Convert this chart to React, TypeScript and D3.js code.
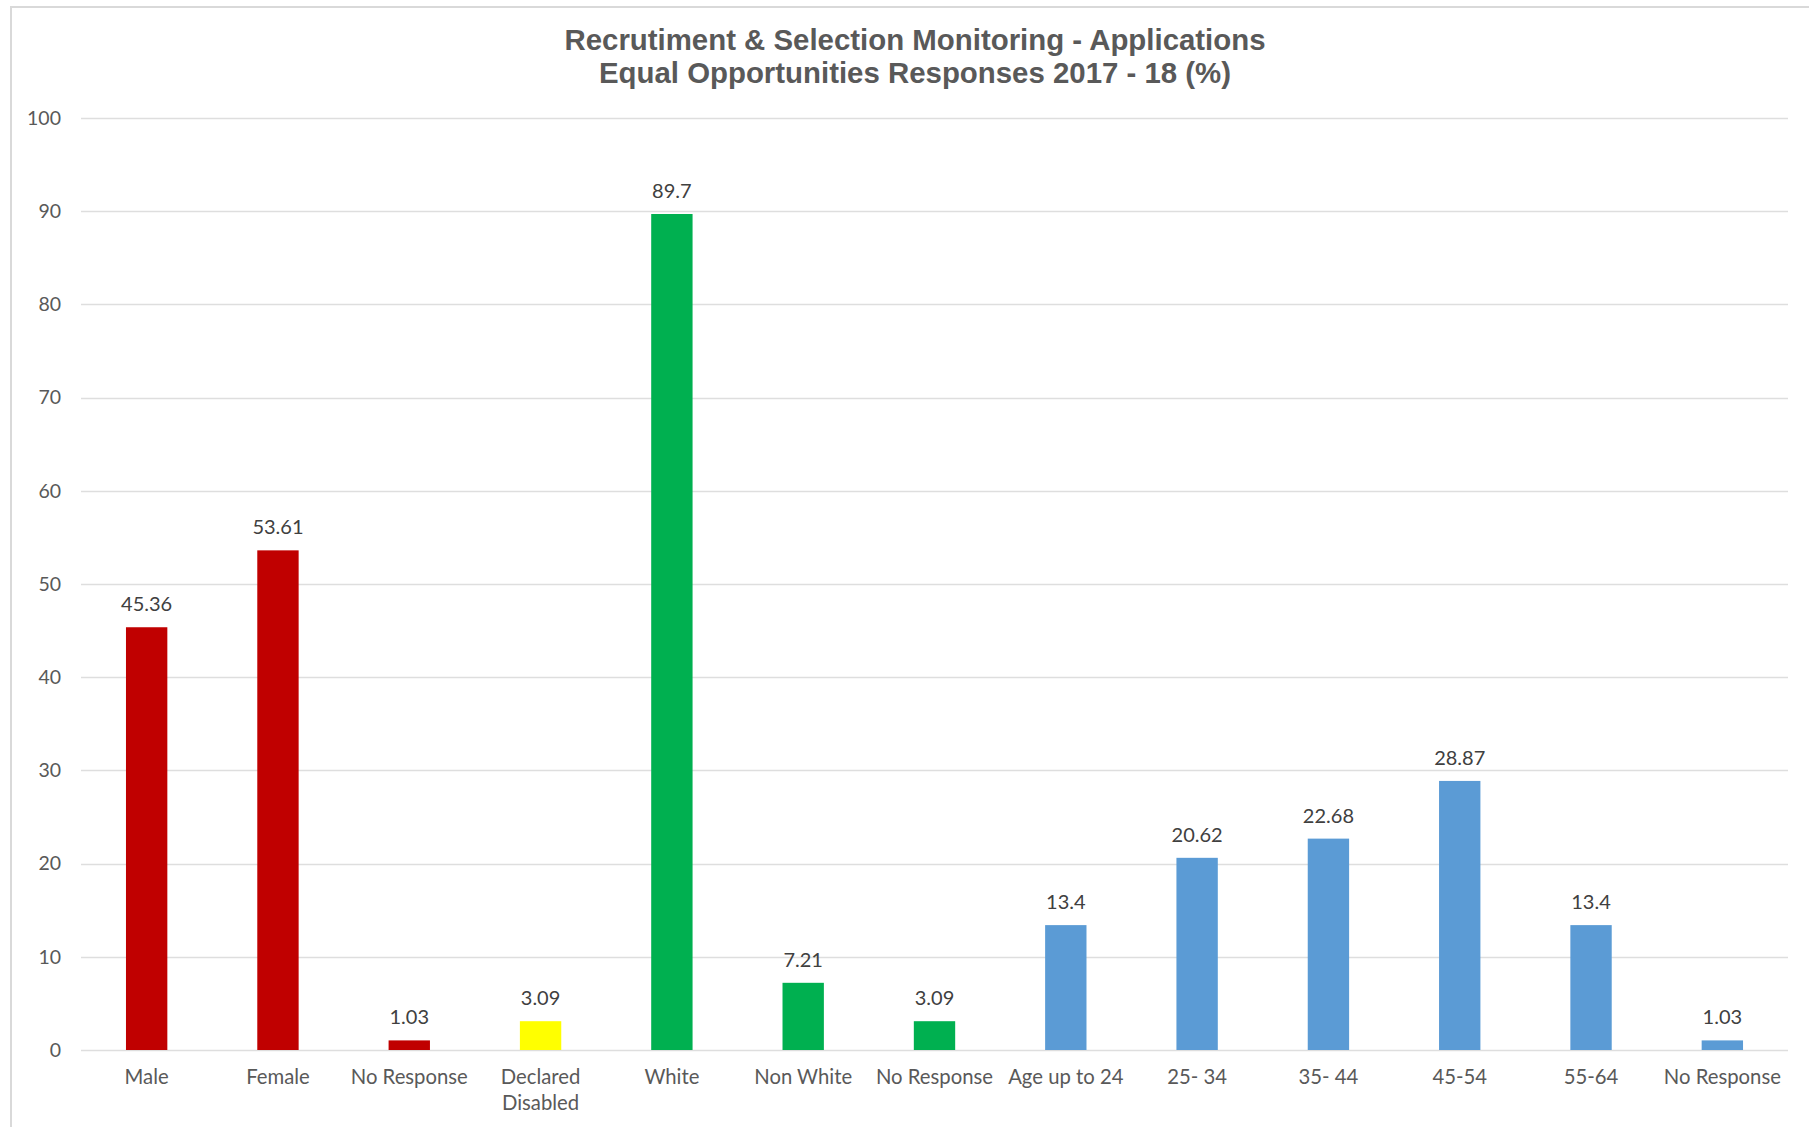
import React, { useEffect, useRef } from "react";
import * as d3 from "d3";

// Category labels along the x axis (multi-line labels split with "\n")
const categories = [
  "Male",
  "Female",
  "No Response",
  "Declared\nDisabled",
  "White",
  "Non White",
  "No Response",
  "Age up to 24",
  "25- 34",
  "35- 44",
  "45-54",
  "55-64",
  "No Response",
];

// Percentage of responses for each category
const values = [45.36, 53.61, 1.03, 3.09, 89.7, 7.21, 3.09, 13.4, 20.62, 22.68, 28.87, 13.4, 1.03];

// Group each bar belongs to (drives its colour)
const groups = ["gender", "gender", "gender", "disability", "ethnicity", "ethnicity", "ethnicity", "age", "age", "age", "age", "age", "age"];

const yTicks = [0, 10, 20, 30, 40, 50, 60, 70, 80, 90, 100];

const titleLines = [
  "Recrutiment & Selection Monitoring - Applications",
  "Equal Opportunities Responses 2017 - 18 (%)",
];

const groupColors: Record<string, string> = {
  gender: "#C00000",
  disability: "#FFFF00",
  ethnicity: "#00B050",
  age: "#5B9BD5",
};

const W = 1809;
const H = 1127;
const plot = { left: 81, right: 1788, top: 118, bottom: 1050 };

export default function App() {
  const ref = useRef<SVGSVGElement | null>(null);

  useEffect(() => {
    const svg = d3.select(ref.current);
    svg.selectAll("*").remove();

    // Chart frame
    svg
      .append("rect")
      .attr("x", 11)
      .attr("y", 7)
      .attr("width", W)
      .attr("height", H)
      .attr("fill", "#ffffff")
      .attr("stroke", "#d9d9d9")
      .attr("stroke-width", 2);

    const x = d3
      .scaleBand<number>()
      .domain(categories.map((_, i) => i))
      .range([plot.left, plot.right])
      .paddingInner(0.685)
      .paddingOuter(0.3425);

    const y = d3.scaleLinear().domain([0, 100]).range([plot.bottom, plot.top]);

    // Horizontal gridlines
    svg
      .append("g")
      .selectAll("line")
      .data(yTicks)
      .join("line")
      .attr("x1", plot.left)
      .attr("x2", plot.right)
      .attr("y1", (d) => Math.round(y(d)) + 0.5)
      .attr("y2", (d) => Math.round(y(d)) + 0.5)
      .attr("stroke", "#dedede")
      .attr("stroke-width", 1.5);

    // Y tick labels
    svg
      .append("g")
      .selectAll("text")
      .data(yTicks)
      .join("text")
      .attr("x", 61)
      .attr("y", (d) => y(d))
      .attr("dy", "0.35em")
      .attr("text-anchor", "end")
      .attr("font-family", "Lato, 'Open Sans', sans-serif")
      .attr("font-size", 19.5)
      .attr("fill", "#595959")
      .text((d) => String(d));

    // Bars
    svg
      .append("g")
      .selectAll("rect")
      .data(values)
      .join("rect")
      .attr("x", (_, i) => x(i)!)
      .attr("width", x.bandwidth())
      .attr("y", (d) => y(d))
      .attr("height", (d) => plot.bottom - y(d))
      .attr("fill", (_, i) => groupColors[groups[i]]);

    // Value labels above bars
    svg
      .append("g")
      .selectAll("text")
      .data(values)
      .join("text")
      .attr("x", (_, i) => x(i)! + x.bandwidth() / 2)
      .attr("y", (d) => y(d) - 16)
      .attr("text-anchor", "middle")
      .attr("font-family", "Lato, 'Open Sans', sans-serif")
      .attr("font-size", 20)
      .attr("fill", "#404040")
      .text((d) => String(d));

    // Category labels
    const cat = svg
      .append("g")
      .selectAll("text")
      .data(categories)
      .join("text")
      .attr("x", (_, i) => x(i)! + x.bandwidth() / 2)
      .attr("y", 1084)
      .attr("text-anchor", "middle")
      .attr("font-family", "Lato, 'Open Sans', sans-serif")
      .attr("font-size", 20.3)
      .attr("fill", "#595959");
    cat.each(function (d, i) {
      const t = d3.select(this);
      const cx = x(i)! + x.bandwidth() / 2;
      d.split("\n").forEach((line, k) => {
        t.append("tspan").attr("x", cx).attr("dy", k === 0 ? 0 : 26).text(line);
      });
    });

    // Title
    svg
      .append("g")
      .selectAll("text")
      .data(titleLines)
      .join("text")
      .attr("x", 915)
      .attr("y", (_, i) => 50 + i * 33)
      .attr("text-anchor", "middle")
      .attr("font-family", "'Liberation Sans', Arial, sans-serif")
      .attr("font-weight", "bold")
      .attr("font-size", 29.4)
      .attr("fill", "#595959")
      .text((d) => d);
  }, []);

  return (
    <svg
      ref={ref}
      width={W}
      height={H}
      style={{ position: "absolute", left: 0, top: 0, background: "#ffffff" }}
    />
  );
}
